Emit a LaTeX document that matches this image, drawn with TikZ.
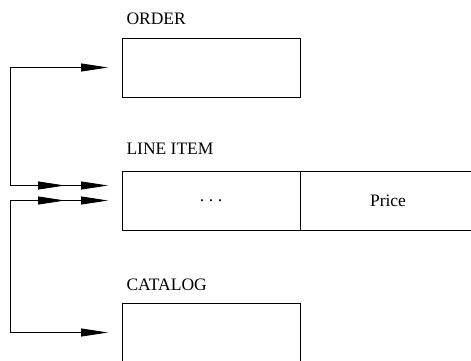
\documentclass[tikz,border=0pt]{standalone}
\usepackage{fontspec}
\setmainfont{Liberation Serif}
\usetikzlibrary{arrows.meta,decorations.markings}
\begin{document}
\begin{tikzpicture}[x=1pt,y=-1pt,
  box/.style={draw, line width=0.8pt, minimum width=178pt, minimum height=59pt,
    anchor=north west, inner sep=0pt, outer sep=0pt,
    font=\fontsize{17.5}{21}\selectfont},
  lab/.style={anchor=base west, inner sep=0pt, outer sep=0pt,
    font=\fontsize{17.5}{21}\selectfont},
  conn/.style={draw, line width=0.8pt, -{Triangle[length=27pt,width=8pt]}},
  dbl/.style={conn, postaction={decorate},
    decoration={markings, mark=at position 55pt with {\arrow{Triangle[length=27pt,width=8pt]}}}}]
\clip (0,0) rectangle (471,360);
% labels
\node[lab] (orderlab) at (126.5,24) {ORDER};
\node[lab] (itemlab) at (126.5,154) {LINE ITEM};
\node[lab] (catlab) at (126.5,290) {CATALOG};
% boxes
\node[box] (order) at (122,38) {};
\node[box] (li1) at (122,171) {.\kern4.6pt.\kern4.6pt.};
\node[box, minimum width=176pt] (li2) at (300,171) {Price};
\node[box] (catalog) at (122,303) {};
% connector end points
\coordinate (oin) at ([xshift=-14pt]order.west);
\coordinate (lia) at ([xshift=-14pt,yshift=15pt]li1.west);
\coordinate (lib) at ([xshift=-14pt]li1.west);
\coordinate (cin) at ([xshift=-14pt]catalog.west);
\coordinate (c1) at (lia -| 10,0);
\coordinate (c2) at (lib -| 10,0);
% connectors
\draw[conn] (c1) |- (oin);
\draw[dbl] (c1) -- (lia);
\draw[dbl] (c2) -- (lib);
\draw[conn] (c2) |- (cin);
\end{tikzpicture}
\end{document}
